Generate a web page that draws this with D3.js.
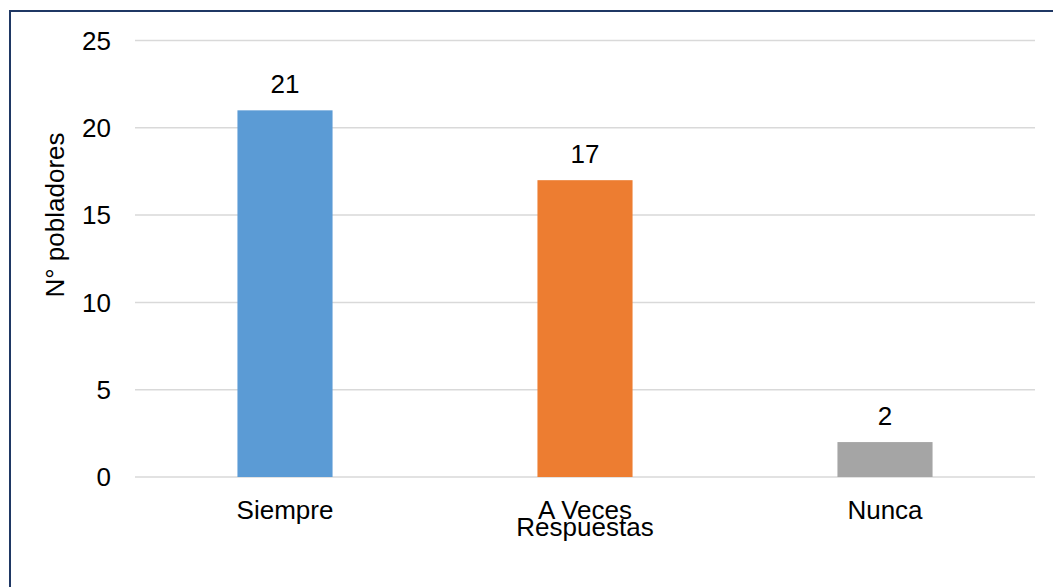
<!DOCTYPE html>
<html>
<head>
<meta charset="utf-8">
<script src="https://cdn.jsdelivr.net/npm/d3@7"></script>
<style>
  html, body { margin: 0; padding: 0; background: #ffffff; }
  svg { display: block; }
  text { font-family: "Liberation Sans", Arial, sans-serif; fill: #000; }
</style>
</head>
<body>
<svg id="chart" width="1053" height="587"></svg>
<script>
const categories = ["Siempre", "A Veces", "Nunca"];
const values = [21, 17, 2];
const colors = ["#5B9BD5", "#ED7D31", "#A5A5A5"];
const yTicks = [0, 5, 10, 15, 20, 25];
const yTitle = "N° pobladores";
const xTitle = "Respuestas";

const W = 1053, H = 587;
const plot = { left: 135, right: 1035, top: 40.5, bottom: 477 };
const fontSize = 26;

const svg = d3.select("#chart");
svg.append("rect").attr("width", W).attr("height", H).attr("fill", "#fff");

// outer border (only top and left visible in crop)
svg.append("path")
  .attr("d", `M10,${H} L10,11 L${W},11`)
  .attr("fill", "none")
  .attr("stroke", "#1F3864")
  .attr("stroke-width", 2);

const x = d3.scaleBand()
  .domain(categories)
  .range([plot.left, plot.right])
  .paddingInner(0.683)
  .paddingOuter(0.3415);

const y = d3.scaleLinear().domain([0, 25]).range([plot.bottom, plot.top]);

// gridlines
svg.append("g").selectAll("line").data(yTicks).join("line")
  .attr("x1", plot.left).attr("x2", plot.right)
  .attr("y1", d => y(d)).attr("y2", d => y(d))
  .attr("stroke", "#D9D9D9").attr("stroke-width", 1.5);

// y tick labels
svg.append("g").selectAll("text").data(yTicks).join("text")
  .attr("x", plot.left - 24)
  .attr("y", d => y(d))
  .attr("dy", "0.35em")
  .attr("text-anchor", "end")
  .attr("font-size", fontSize)
  .text(d => d);

// bars
svg.append("g").selectAll("rect").data(values).join("rect")
  .attr("x", (d, i) => x(categories[i]))
  .attr("width", x.bandwidth())
  .attr("y", d => y(d))
  .attr("height", d => y(0) - y(d))
  .attr("fill", (d, i) => colors[i]);

// value labels
svg.append("g").selectAll("text").data(values).join("text")
  .attr("x", (d, i) => x(categories[i]) + x.bandwidth() / 2)
  .attr("y", d => y(d) - 17)
  .attr("text-anchor", "middle")
  .attr("font-size", fontSize)
  .text(d => d);

// category labels
svg.append("g").selectAll("text").data(categories).join("text")
  .attr("x", d => x(d) + x.bandwidth() / 2)
  .attr("y", plot.bottom + 42)
  .attr("text-anchor", "middle")
  .attr("font-size", fontSize)
  .text(d => d);

// x title
svg.append("text")
  .attr("x", (plot.left + plot.right) / 2)
  .attr("y", plot.bottom + 59)
  .attr("text-anchor", "middle")
  .attr("font-size", fontSize)
  .text(xTitle);

// y title
svg.append("text")
  .attr("transform", "translate(64,215) rotate(-90)")
  .attr("text-anchor", "middle")
  .attr("font-size", fontSize)
  .text(yTitle);
</script>
</body>
</html>
